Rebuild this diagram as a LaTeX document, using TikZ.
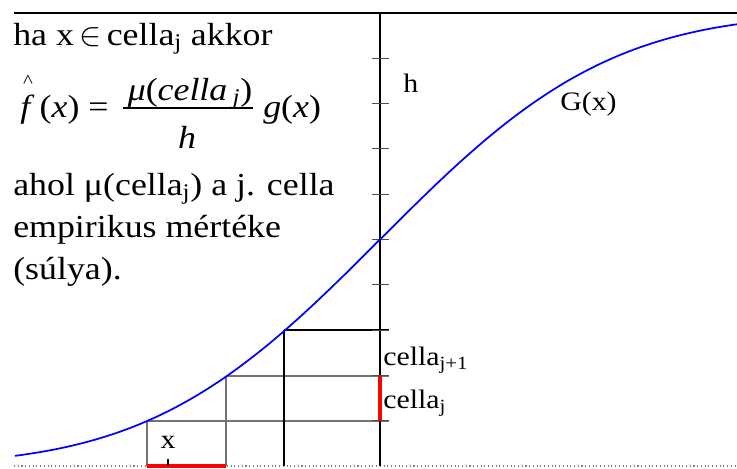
\documentclass[tikz,border=0pt]{standalone}
\usepackage{fontspec}
\setmainfont{Liberation Serif}[FakeStretch=1.12]
\usetikzlibrary{positioning}
\tikzset{
  txt/.style  = {inner sep=0pt, font=\fontsize{24}{31.5}\selectfont},
  lbl/.style  = {inner sep=0pt, font=\fontsize{20}{22}\selectfont},
  grd/.style  = {draw=black!55, line width=0.8pt},
  grdd/.style = {draw=black, line width=0.8pt},
  tck/.style  = {draw=black!70, line width=0.8pt},
  crv/.style  = {blue, line width=1.3pt},
  hil/.style  = {red, line width=2.3pt},
  declare function={ef(\u)=tanh(1.1284*\u+0.1009*\u*\u*\u);},
}

\begin{document}
\begin{tikzpicture}[x=0.75pt, y=-0.75pt]
  \useasboundingbox (0,0) rectangle (737,468);
  % frame and axis
  \coordinate (tl) at (14,13);
  \coordinate (tr) at (737,13);
  \coordinate (bl) at (14,466);
  \coordinate (br) at (737,466);
  \coordinate (top) at (380,13);
  \coordinate (o) at (380,466);
  \draw[line width=1pt] (tl) -- (tr);
  \draw[black!50, dotted, line width=0.8pt] (bl) -- (br);
  % cells
  \coordinate (c1) at (147,421);
  \coordinate (c2) at (226,376);
  \coordinate (c3) at (284,330);
  \draw[grd] (c1) -- (c1 |- o);
  \draw[grd] (c1) -- (389,421);
  \draw[grd] (c2) -- (c2 |- o);
  \draw[grd] (c2) -- (389,376);
  \draw[grdd] (c3) -- (c3 |- o);
  \draw[grdd] (c3) -- (389,330);
  \draw[line width=0.8pt] (top) -- (o);
  \foreach \k in {1,...,9}
    \draw[tck] (372,{13+45.3*\k}) -- (389,{13+45.3*\k});
  % G(x)
  \draw[crv] plot[domain=15:737, samples=150, smooth]
    (\x, {239.5-226*ef((\x-380)/255)});
  % highlighted cell
  \draw[hil] (c2 -| o) -- (c1 -| o);
  \draw[hil] (c1 |- o) -- (c2 |- o);
  \coordinate (xb) at (168,466);
  \draw[line width=1pt] (xb) -- ++(0,-7);
  % labels
  \node[lbl, anchor=base west] (hlab) at (403,92) {h};
  \node[lbl, anchor=base west] (glab) at (560,110) {G(x)};
  \node[lbl, anchor=base west] (cnext) at (383,365) {cella\textsubscript{j+1}};
  \node[lbl, anchor=base west] (ccur) at (383,408) {cella\textsubscript{j}};
  \node[lbl, anchor=base] (xlab) at (168,448) {x};
  % text block
  \node[txt, anchor=base west] (cond) at (13,45) {ha x\,$\in$\,cella\textsubscript{j} akkor};
  \node[inner sep=0pt, anchor=base, font=\fontsize{14}{14}\selectfont] (hat) at (28,87) {\textasciicircum};
  \node[txt, anchor=base west] (fx) at (20,117) {\textit{f}\,(\textit{x})~=};
  \node[txt, anchor=base] (num) at (190,100) {\textit{μ}(\textit{cella}\,\textsubscript{\textit{j}})};
  \coordinate (barl) at (123,108);
  \coordinate (barr) at (253,108);
  \draw[line width=0.8pt] (barl) -- (barr);
  \node[txt, anchor=base] (den) at (187,148) {\textit{h}};
  \node[txt, anchor=base west] (gx) at (263,117) {\textit{g}(\textit{x})};
  \node[txt, anchor=base west, align=left] (note) at (13,279)
    {ahol μ(cella\textsubscript{j}) a j. cella\\empirikus mértéke\\(súlya).};
\end{tikzpicture}
\end{document}
